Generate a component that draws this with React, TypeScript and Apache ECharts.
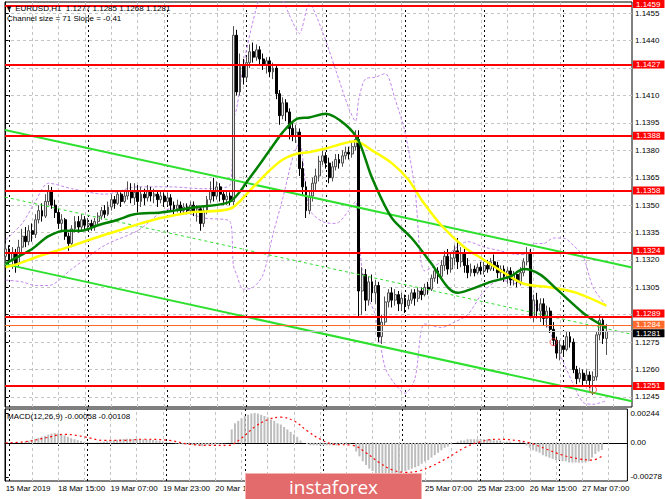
import React, { useEffect, useRef } from "react";
import * as echarts from "echarts";

const FONT = "'Liberation Sans', Arial, sans-serif";

// [open, close, low, high] per H1 bar, bar 0 = 15 Mar 23:00
const candles: number[][] = [
  [1.1322, 1.1326, 1.1317, 1.1329], [1.1326, 1.132, 1.1317, 1.1328], [1.132, 1.1324, 1.1315, 1.1327], [1.1324, 1.1318, 1.1313, 1.1326],
  [1.1318, 1.1327, 1.1316, 1.1331], [1.1327, 1.1333, 1.1324, 1.1337], [1.1333, 1.133, 1.1327, 1.1338], [1.133, 1.1336, 1.1328, 1.1339],
  [1.1336, 1.1334, 1.133, 1.134], [1.1334, 1.1342, 1.1332, 1.1345], [1.1342, 1.1347, 1.134, 1.135], [1.1347, 1.1344, 1.1341, 1.1351],
  [1.1344, 1.1352, 1.1343, 1.1356], [1.1352, 1.1358, 1.135, 1.1361], [1.1358, 1.135, 1.1348, 1.136], [1.135, 1.1346, 1.1343, 1.1353],
  [1.1346, 1.134, 1.1337, 1.1348], [1.134, 1.1342, 1.1336, 1.1345], [1.1342, 1.1333, 1.1331, 1.1343], [1.1333, 1.1329, 1.1325, 1.1335],
  [1.1329, 1.1337, 1.1327, 1.1339], [1.1337, 1.1341, 1.1335, 1.1344], [1.1341, 1.1338, 1.1335, 1.1344], [1.1338, 1.1342, 1.1336, 1.1345],
  [1.1342, 1.1339, 1.1336, 1.1344], [1.1339, 1.134, 1.1336, 1.1343], [1.134, 1.1338, 1.1336, 1.1342], [1.1338, 1.1341, 1.1336, 1.1343],
  [1.1341, 1.1344, 1.1339, 1.1346], [1.1344, 1.1347, 1.1342, 1.1349], [1.1347, 1.1345, 1.1343, 1.135], [1.1345, 1.1349, 1.1344, 1.1352],
  [1.1349, 1.1353, 1.1347, 1.1356], [1.1353, 1.1351, 1.1348, 1.1355], [1.1351, 1.1356, 1.135, 1.1358], [1.1356, 1.1352, 1.1349, 1.1357],
  [1.1352, 1.1355, 1.1351, 1.1358], [1.1355, 1.1358, 1.1353, 1.1363], [1.1358, 1.1354, 1.1351, 1.1362], [1.1354, 1.1357, 1.135, 1.1362],
  [1.1357, 1.1352, 1.1346, 1.1361], [1.1352, 1.1356, 1.1349, 1.136], [1.1356, 1.1354, 1.135, 1.1359], [1.1354, 1.1358, 1.1352, 1.1361],
  [1.1358, 1.1355, 1.1352, 1.136], [1.1355, 1.1356, 1.1351, 1.1359], [1.1356, 1.1353, 1.1349, 1.1358], [1.1353, 1.1355, 1.1351, 1.1358],
  [1.1355, 1.1352, 1.1349, 1.1357], [1.1352, 1.1354, 1.135, 1.1357], [1.1354, 1.135, 1.1347, 1.1356], [1.135, 1.1348, 1.1345, 1.1352],
  [1.1348, 1.135, 1.1346, 1.1353], [1.135, 1.1347, 1.1345, 1.1352], [1.1347, 1.1349, 1.1345, 1.1351], [1.1349, 1.1347, 1.1345, 1.1351],
  [1.1347, 1.135, 1.1345, 1.1352], [1.135, 1.1346, 1.1344, 1.1352], [1.1346, 1.1348, 1.1341, 1.135], [1.1348, 1.134, 1.1336, 1.1349],
  [1.134, 1.1347, 1.1338, 1.1349], [1.1347, 1.1353, 1.1345, 1.1355], [1.1353, 1.1358, 1.1351, 1.1363], [1.1358, 1.1355, 1.1352, 1.1365],
  [1.1355, 1.136, 1.1353, 1.1363], [1.136, 1.1356, 1.1352, 1.1362], [1.1356, 1.1353, 1.135, 1.1358], [1.1353, 1.1355, 1.135, 1.1358],
  [1.1355, 1.1352, 1.135, 1.1357], [1.1352, 1.1443, 1.135, 1.1448], [1.1443, 1.1412, 1.141, 1.1446], [1.1412, 1.1426, 1.141, 1.1433],
  [1.1426, 1.142, 1.1416, 1.143], [1.142, 1.1428, 1.1418, 1.1431], [1.1428, 1.1434, 1.1425, 1.1438], [1.1434, 1.1431, 1.1428, 1.1439],
  [1.1431, 1.1435, 1.1429, 1.1438], [1.1435, 1.143, 1.1427, 1.1437], [1.143, 1.1427, 1.1424, 1.1433], [1.1427, 1.1429, 1.1422, 1.1431],
  [1.1429, 1.1423, 1.142, 1.1431], [1.1423, 1.1425, 1.1419, 1.1428], [1.1425, 1.1411, 1.1408, 1.1427], [1.1411, 1.1399, 1.1394, 1.1413],
  [1.1399, 1.1406, 1.1397, 1.1409], [1.1406, 1.1401, 1.1396, 1.1408], [1.1401, 1.1392, 1.1386, 1.1403], [1.1392, 1.1388, 1.1385, 1.1395],
  [1.1388, 1.139, 1.1384, 1.1394], [1.139, 1.137, 1.1366, 1.1392], [1.137, 1.136, 1.1355, 1.1374], [1.136, 1.1347, 1.1343, 1.1363],
  [1.1347, 1.1355, 1.1345, 1.1358], [1.1355, 1.1362, 1.1352, 1.1365], [1.1362, 1.1366, 1.1358, 1.137], [1.1366, 1.1374, 1.1363, 1.1377],
  [1.1374, 1.1377, 1.1372, 1.138], [1.1377, 1.1373, 1.137, 1.1379], [1.1373, 1.1365, 1.1362, 1.1376], [1.1365, 1.1371, 1.1363, 1.1374],
  [1.1371, 1.1375, 1.1369, 1.1378], [1.1375, 1.1373, 1.137, 1.1378], [1.1373, 1.1377, 1.1371, 1.138], [1.1377, 1.1379, 1.1375, 1.1382],
  [1.1379, 1.1378, 1.1375, 1.1382], [1.1378, 1.1382, 1.1376, 1.1385], [1.1382, 1.1386, 1.138, 1.1391], [1.1386, 1.1303, 1.1289, 1.1391],
  [1.1303, 1.1312, 1.129, 1.1316], [1.1312, 1.1298, 1.1292, 1.1315], [1.1298, 1.1308, 1.1295, 1.1311], [1.1308, 1.1302, 1.1297, 1.1312],
  [1.1302, 1.1306, 1.1296, 1.1309], [1.1306, 1.1278, 1.1275, 1.1308], [1.1278, 1.1286, 1.1274, 1.129], [1.1286, 1.1297, 1.1284, 1.13],
  [1.1297, 1.1302, 1.1294, 1.1304], [1.1302, 1.1298, 1.1294, 1.1305], [1.1298, 1.1301, 1.1295, 1.1304], [1.1301, 1.1296, 1.1292, 1.1303],
  [1.1296, 1.1299, 1.1292, 1.1302], [1.1299, 1.1295, 1.1291, 1.1301], [1.1295, 1.1298, 1.1293, 1.1301], [1.1298, 1.1302, 1.1296, 1.1304],
  [1.1302, 1.1299, 1.1295, 1.1304], [1.1299, 1.1303, 1.1297, 1.1305], [1.1303, 1.1301, 1.1298, 1.1305], [1.1301, 1.1305, 1.13, 1.1307],
  [1.1305, 1.1304, 1.1301, 1.1308], [1.1304, 1.131, 1.1303, 1.1312], [1.131, 1.1314, 1.1308, 1.1316], [1.1314, 1.1311, 1.1307, 1.1316],
  [1.1311, 1.1317, 1.1309, 1.132], [1.1317, 1.1322, 1.1314, 1.1325], [1.1322, 1.1315, 1.1312, 1.1326], [1.1315, 1.1321, 1.1313, 1.1324],
  [1.1321, 1.1325, 1.1317, 1.1328], [1.1325, 1.1319, 1.1315, 1.1332], [1.1319, 1.1324, 1.1316, 1.1327], [1.1324, 1.1317, 1.1313, 1.1326],
  [1.1317, 1.1313, 1.131, 1.1321], [1.1313, 1.1315, 1.1311, 1.1318], [1.1315, 1.1313, 1.1311, 1.1317], [1.1313, 1.1316, 1.1312, 1.1318],
  [1.1316, 1.1314, 1.1312, 1.1319], [1.1314, 1.1317, 1.1312, 1.1319], [1.1317, 1.1315, 1.1313, 1.132], [1.1315, 1.1319, 1.1314, 1.1321],
  [1.1319, 1.1317, 1.1314, 1.1323], [1.1317, 1.1313, 1.131, 1.1319], [1.1313, 1.1315, 1.1309, 1.1317], [1.1315, 1.1311, 1.1308, 1.1317],
  [1.1311, 1.1314, 1.1307, 1.1316], [1.1314, 1.1309, 1.1306, 1.1316], [1.1309, 1.1312, 1.1306, 1.1314], [1.1312, 1.1308, 1.1305, 1.1314],
  [1.1308, 1.1313, 1.1306, 1.1316], [1.1313, 1.1319, 1.1311, 1.1321], [1.1319, 1.1324, 1.1317, 1.1327], [1.1324, 1.1289, 1.1288, 1.1326],
  [1.1289, 1.1298, 1.1286, 1.1301], [1.1298, 1.1292, 1.1288, 1.1302], [1.1292, 1.1296, 1.1286, 1.1299], [1.1296, 1.1288, 1.1284, 1.1299],
  [1.1288, 1.1292, 1.1283, 1.1295], [1.1292, 1.1282, 1.128, 1.1294], [1.1282, 1.1276, 1.1273, 1.1286], [1.1276, 1.1269, 1.1266, 1.1278],
  [1.1269, 1.1273, 1.1265, 1.1276], [1.1273, 1.1271, 1.1268, 1.1276], [1.1271, 1.1278, 1.127, 1.1281], [1.1278, 1.1275, 1.1272, 1.1281],
  [1.1275, 1.126, 1.1258, 1.1277], [1.126, 1.1255, 1.1252, 1.1262], [1.1255, 1.1258, 1.1253, 1.1261], [1.1258, 1.1254, 1.1251, 1.126],
  [1.1254, 1.1257, 1.1252, 1.126], [1.1257, 1.1254, 1.125, 1.1259], [1.1254, 1.1256, 1.1246, 1.1259], [1.1256, 1.1279, 1.1254, 1.1281],
  [1.1279, 1.1287, 1.1276, 1.129], [1.1287, 1.1277, 1.1274, 1.1288], [1.1277, 1.1281, 1.1268, 1.1285],
];

// moving averages, read at chosen bars: [bar, price]
const greenMA: number[][] = [
  [0, 1.1318], [4, 1.1322], [8, 1.1326], [13, 1.1333], [18, 1.1336], [23, 1.1336], [28, 1.1339], [34, 1.1342],
  [39, 1.1345], [47, 1.1346], [51, 1.1347], [58, 1.1349], [68, 1.1352], [74, 1.1365], [80, 1.138], [84, 1.139],
  [88, 1.1397], [92, 1.1398], [97, 1.14], [103, 1.1394], [107, 1.1385], [111, 1.1365], [117, 1.1343], [123, 1.1332],
  [129, 1.1318], [134, 1.1305], [137, 1.1302], [141, 1.1304], [147, 1.1308], [153, 1.1311], [157, 1.1315], [162, 1.1312],
  [167, 1.1304], [175, 1.1291], [179, 1.1286], [182, 1.1283],
];
const yellowMA: number[][] = [
  [0, 1.1316], [4, 1.1318], [10, 1.1322], [19, 1.1327], [27, 1.1332], [34, 1.1336], [41, 1.134], [47, 1.1343],
  [56, 1.1346], [68, 1.1348], [74, 1.1358], [80, 1.1369], [84, 1.1375], [88, 1.1378], [92, 1.1379], [97, 1.1381],
  [106, 1.1385], [111, 1.138], [117, 1.1373], [122, 1.1364], [126, 1.1353], [132, 1.1339], [139, 1.1327], [145, 1.132],
  [151, 1.1313], [157, 1.1307], [165, 1.1305], [173, 1.1302], [182, 1.1295],
];
const bandUpper: number[][] = [
  [0, 1.1331], [5, 1.134], [9, 1.1352], [13, 1.1362], [20, 1.1359], [30, 1.1356], [40, 1.136], [50, 1.136],
  [60, 1.1359], [68, 1.1361], [69, 1.1396], [70, 1.1403], [72, 1.1426], [75, 1.1451], [78, 1.1468], [81, 1.147],
  [84, 1.1462], [87, 1.145], [89, 1.1444], [92, 1.146], [96, 1.1445], [100, 1.1424], [104, 1.1403], [106, 1.1396],
  [107, 1.1408], [109, 1.1419], [112, 1.142], [115, 1.1422], [118, 1.1408], [121, 1.139], [124, 1.1359], [127, 1.1314],
  [132, 1.1319], [136, 1.1326], [140, 1.133], [145, 1.1327], [150, 1.1325], [155, 1.1323], [158, 1.1323], [160, 1.1329],
  [163, 1.1329], [166, 1.1332], [169, 1.1332], [172, 1.1328], [175, 1.1322], [178, 1.1305], [182, 1.1295],
];
const bandLower: number[][] = [
  [0, 1.1309], [5, 1.1308], [9, 1.1306], [13, 1.1306], [20, 1.1315], [30, 1.1328], [40, 1.1336], [50, 1.1348],
  [60, 1.1343], [68, 1.1341], [69, 1.1317], [70, 1.1312], [72, 1.1304], [75, 1.1305], [78, 1.1312], [81, 1.1334],
  [84, 1.1354], [87, 1.1376], [89, 1.1384], [92, 1.1348], [96, 1.1341], [100, 1.134], [104, 1.1347], [106, 1.1352],
  [107, 1.1332], [109, 1.1303], [112, 1.129], [115, 1.1261], [118, 1.1252], [121, 1.1247], [124, 1.1255], [127, 1.1285],
  [132, 1.1283], [136, 1.1286], [140, 1.129], [145, 1.1303], [150, 1.1309], [155, 1.1307], [158, 1.1307], [160, 1.1297],
  [163, 1.1289], [166, 1.1276], [169, 1.1264], [172, 1.1252], [175, 1.1242], [178, 1.1241], [182, 1.1243],
];

// regression channel: [bar, price] at both ends of the window
const channelUpper: number[][] = [[-0.2, 1.13911], [189.8, 1.13159]];
const channelMid: number[][] = [[-0.2, 1.13544], [189.8, 1.12793]];
const channelLower: number[][] = [[-0.2, 1.13177], [189.8, 1.12426]];

const levels = [1.1459, 1.1427, 1.1388, 1.1358, 1.1324, 1.1289, 1.1251];
const askLevel = 1.1284;
const lastPrice = 1.1281;
const markers: number[][] = [[166, 1.1275], [178, 1.1249]];

const priceTicks = [1.1245, 1.126, 1.1275, 1.129, 1.1305, 1.132, 1.1335, 1.135, 1.1365, 1.138, 1.1395, 1.141, 1.1425, 1.144, 1.1455];
// axis labels hidden behind the level boxes in the picture
const priceLabelsUnderBoxes = [1.1425, 1.129];
const timeTickBars = [0, 16, 32, 48, 64, 80, 96, 112, 128, 144, 160, 176];
const timeTickLabels = [
  "15 Mar 2019", "18 Mar 15:00", "19 Mar 07:00", "19 Mar 23:00", "20 Mar 15:00", "21 Mar 07:00",
  "21 Mar 23:00", "22 Mar 15:00", "25 Mar 07:00", "25 Mar 23:00", "26 Mar 15:00", "27 Mar 07:00",
];
// labels that sit under the broker logo in the picture
const labelsUnderLogo = ["21 Mar 07:00", "21 Mar 23:00", "22 Mar 15:00"];
const gridBars = [8, 16, 24, 32, 40, 48, 56, 64, 72, 80, 88, 96, 104, 112, 120, 128, 136, 144, 152, 160, 168, 176, 184];
const daySeparators = [1, 25, 49, 73, 97, 121, 145, 169];

const macdHist = [
  0.00002, 0.00001, 0.0, 0.00001, 0.00003, 0.00005,
  0.0001, 0.00018, 0.00026, 0.00034, 0.00042, 0.0005, 0.00058,
  0.00068, 0.00076, 0.0008, 0.00078, 0.00072,
  0.00062, 0.0005, 0.00038, 0.0003, 0.00022, 0.00016, 0.0001,
  0.00006, 0.00003, 0.00002, 0.00004, 0.00006, 0.0001, 0.00014, 0.00018,
  0.00022, 0.00026, 0.0003, 0.00032, 0.00034, 0.00034, 0.00033, 0.00032, 0.0003, 0.0003, 0.00028, 0.00026, 0.00024, 0.0002, 0.00016, 0.00012, 0.00008, 0.00004,
  0.0, -0.00004, -0.00008, -0.00012, -0.00014, -0.00016, -0.00018, -0.0002, -0.00024, -0.00026, -0.00022, -0.00018, -0.00014, -0.0001, -0.00006, -0.00004, -0.00002,
  0.00002,
  0.0011, 0.0016, 0.0018, 0.002, 0.0022, 0.0023, 0.0024, 0.00244, 0.0024, 0.0023, 0.0022, 0.0021, 0.0019, 0.0018, 0.0016, 0.0015, 0.0013, 0.0011, 0.0009, 0.0007, 0.0005, 0.0002, 0.0,
  -0.0001, -0.0002, -0.0002, -0.0002, -0.0002, -0.0002, -0.0002, -0.0002, -0.0002, -0.0002, -0.0001, -0.0001, -0.0001, -0.00005, 0.0,
  -0.0007, -0.0011, -0.0015, -0.0018, -0.0021, -0.0023, -0.0025, -0.0026, -0.00278, -0.0027, -0.0027, -0.0026, -0.0025, -0.0025, -0.0024,
  -0.0023, -0.0022, -0.0021, -0.002, -0.0019, -0.0017, -0.0015, -0.0014, -0.0012, -0.001, -0.0008, -0.0006, -0.0004, -0.0003, -0.0001,
  0.0, 0.0001, 0.0002, 0.0002, 0.0003, 0.0003, 0.0003, 0.0003, 0.0003, 0.0003, 0.0003, 0.0003, 0.0002, 0.0002, 0.0002, 0.0001, 0.0001, 0.0001, 0.0, 0.0, 0.0001, 0.0001,
  -0.0002, -0.0004, -0.0006, -0.0007, -0.0008, -0.001, -0.0011, -0.0012, -0.0013, -0.0014, -0.0014, -0.0015, -0.0015, -0.0016, -0.0016, -0.0016,
  -0.0016, -0.0016, -0.0016, -0.0015, -0.0012, -0.0009, -0.0007, -0.00058,
];
const macdSignal: number[][] = [
  [0, 0.0], [6, 0.0001], [12, 0.0004], [18, 0.0007], [24, 0.0005], [30, 0.0002], [36, 0.0002], [42, 0.0003],
  [50, 0.0002], [56, -0.0001], [62, -0.0002], [68, -0.0002], [72, 0.0004], [76, 0.0013], [80, 0.0019], [84, 0.0021],
  [88, 0.0018], [92, 0.001], [96, 0.0003], [100, -0.0001], [106, -0.0002], [110, -0.0008], [114, -0.0016], [118, -0.0022],
  [122, -0.0024], [126, -0.0023], [130, -0.0019], [135, -0.0012], [140, -0.0004], [145, 0.0001], [150, 0.0003], [156, 0.0002],
  [160, 0.0], [165, -0.0005], [170, -0.001], [175, -0.0013], [179, -0.0014], [182, -0.00108],
];
const macdTicks = [0.00244, 0, -0.00278];

export default function App() {
  const ref = useRef<HTMLDivElement>(null);
  useEffect(() => {
    document.body.style.margin = "0";
    const chart = echarts.init(ref.current as HTMLDivElement, null, { renderer: "svg" });

    const vLines = [
      ...gridBars.map((b) => ({ xAxis: b, lineStyle: { color: "#c4c4c4", type: [3, 3], width: 1 } })),
      ...daySeparators.map((b) => ({ xAxis: b, lineStyle: { color: "#000", type: [2, 3], width: 1 } })),
    ];
    const vMark = { z: 1, silent: true, precision: 3, symbol: ["none", "none"], label: { show: false }, data: vLines };

    // small vertical nudges so stacked price boxes do not cover each other
    const nudge: Record<string, number> = { "1.1459": -2, "1.1324": -2, "1.1289": -3, "1.1284": -1, "1.1281": 2 };
    const lvlLabel = (v: number, bg: string) => ({
      show: true,
      position: "end",
      distance: 1,
      offset: [0, nudge[v.toFixed(4)] || 0],
      formatter: (p: any) => Number(p.value).toFixed(4),
      color: "#fff",
      backgroundColor: bg,
      padding: [1, 4, 0, 3],
      fontSize: 8,
      lineHeight: 7,
      fontFamily: FONT,
    });
    const levelData: any[] = [
      ...levels.map((v) => ({ yAxis: v, lineStyle: { color: "#ff0000", width: 2, type: "solid" }, label: lvlLabel(v, "#ff0000") })),
      { yAxis: askLevel, lineStyle: { color: "#ff6a2a", width: 1, type: "solid" }, label: lvlLabel(askLevel, "#ff6a2a") },
      { yAxis: lastPrice, lineStyle: { color: "#c0c0c0", width: 1, type: "solid" }, label: lvlLabel(lastPrice, "#000000") },
    ];

    const axisText = { fontSize: 8, color: "#000", fontFamily: FONT };
    const priceLabelValues = priceTicks.filter((v) => priceLabelsUnderBoxes.indexOf(v) < 0);

    const option: any = {
      animation: false,
      backgroundColor: "#ffffff",
      grid: [
        { left: 5, right: 33, top: 2, height: 405, show: true, borderColor: "#000", borderWidth: 1 },
        { left: 5, right: 33, top: 409, height: 72, show: true, borderColor: "#000", borderWidth: 1 },
      ],
      xAxis: [
        { type: "value", gridIndex: 0, min: -0.2, max: 189.8, axisLine: { show: false }, axisTick: { show: false }, axisLabel: { show: false }, splitLine: { show: false } },
        {
          type: "value", gridIndex: 1, min: -0.2, max: 189.8,
          axisLine: { show: true, lineStyle: { color: "#000" } },
          axisTick: { show: true, customValues: timeTickBars, length: 3, lineStyle: { color: "#000" } },
          axisLabel: {
            ...axisText, customValues: timeTickBars, align: "left", margin: 3,
            formatter: (v: number) => {
              const k = timeTickBars.indexOf(Math.round(v));
              if (k < 0) return "";
              const s = timeTickLabels[k];
              return labelsUnderLogo.indexOf(s) >= 0 ? "" : s;
            },
          },
          splitLine: { show: false },
        },
      ],
      yAxis: [
        {
          type: "value", gridIndex: 0, position: "right", min: 1.12395, max: 1.14612,
          axisLine: { show: true, lineStyle: { color: "#000" } },
          axisTick: { show: true, customValues: priceTicks, length: 3, lineStyle: { color: "#000" } },
          axisLabel: { ...axisText, customValues: priceLabelValues, margin: 3, formatter: (v: number) => v.toFixed(4) },
          splitLine: { show: true, lineStyle: { color: "#c4c4c4", type: [3, 3], width: 1 } },
        },
        {
          type: "value", gridIndex: 1, position: "right", min: -0.00311, max: 0.00277,
          axisLine: { show: true, lineStyle: { color: "#000" } },
          axisTick: { show: true, customValues: macdTicks, length: 3, lineStyle: { color: "#000" } },
          axisLabel: { ...axisText, customValues: macdTicks, margin: 3, formatter: (v: number) => (Math.abs(v) < 1e-9 ? "0.00" : v.toFixed(5)) },
          splitLine: { show: false },
        },
      ],
      series: [
        {
          type: "candlestick", xAxisIndex: 0, yAxisIndex: 0,
          data: candles.map((c, i) => [i, c[0], c[1], c[2], c[3]]),
          encode: { x: 0, y: [1, 2, 3, 4] },
          barWidth: 2.4,
          itemStyle: { color: "#e4e4e4", color0: "#000000", borderColor: "#505050", borderColor0: "#000000", borderWidth: 1 },
          markLine: { silent: true, precision: 5, symbol: ["none", "none"], data: levelData },
          z: 3,
        },
        { type: "line", xAxisIndex: 0, yAxisIndex: 0, data: bandUpper, showSymbol: false, smooth: 0.3, lineStyle: { color: "#c387ee", width: 1, type: [3, 2] }, z: 2, markLine: vMark },
        { type: "line", xAxisIndex: 0, yAxisIndex: 0, data: bandLower, showSymbol: false, smooth: 0.3, lineStyle: { color: "#c387ee", width: 1, type: [3, 2] }, z: 2 },
        { type: "line", xAxisIndex: 0, yAxisIndex: 0, data: channelUpper, showSymbol: false, lineStyle: { color: "#2ee02e", width: 2 }, z: 4 },
        { type: "line", xAxisIndex: 0, yAxisIndex: 0, data: channelMid, showSymbol: false, lineStyle: { color: "#2ee02e", width: 1, type: [3, 3] }, z: 4 },
        { type: "line", xAxisIndex: 0, yAxisIndex: 0, data: channelLower, showSymbol: false, lineStyle: { color: "#2ee02e", width: 2 }, z: 4 },
        { type: "line", xAxisIndex: 0, yAxisIndex: 0, data: yellowMA, showSymbol: false, smooth: 0.3, lineStyle: { color: "#ffff00", width: 2.5 }, z: 4 },
        { type: "line", xAxisIndex: 0, yAxisIndex: 0, data: greenMA, showSymbol: false, smooth: 0.3, lineStyle: { color: "#008000", width: 2.5 }, z: 4 },
        { type: "scatter", xAxisIndex: 0, yAxisIndex: 0, data: markers, symbol: "circle", symbolSize: 7, itemStyle: { color: "rgba(0,0,0,0)", borderColor: "#ff3030", borderWidth: 1 }, z: 6 },
        {
          type: "bar", xAxisIndex: 1, yAxisIndex: 1,
          data: macdHist.map((v, i) => [i, v]),
          barWidth: 2, itemStyle: { color: "#bdbdbd" }, z: 2,
          markLine: vMark,
        },
        { type: "line", xAxisIndex: 1, yAxisIndex: 1, data: macdSignal, showSymbol: false, smooth: 0.4, lineStyle: { color: "#ff0000", width: 1.2, type: [2, 3] }, z: 3 },
      ],
      graphic: [
        { type: "text", left: 5, top: 4, z: 50, style: { text: "\u25BC EURUSD,H1  1.1277 1.1285 1.1268 1.1281", fontSize: 8, fontFamily: FONT, fill: "#000" } },
        { type: "text", left: 7, top: 14, z: 50, style: { text: "Channel size = 71 Slope = -0.41", fontSize: 8, fontFamily: FONT, fill: "#000" } },
        { type: "text", left: 7, top: 412, z: 50, style: { text: "MACD(12,26,9) -0.00058 -0.00108", fontSize: 8, fontFamily: FONT, fill: "#000" } },
        { type: "rect", left: 245, top: 473, z: 100, shape: { width: 176, height: 30 }, style: { fill: "#e36b6b", stroke: "#f2b3b3", lineWidth: 1 } },
        { type: "text", left: 289, top: 477, z: 101, style: { text: "instaforex", fill: "#ffffff", fontSize: 19, fontFamily: "'Open Sans', sans-serif" } },
      ],
    };
    chart.setOption(option);
    return () => chart.dispose();
  }, []);
  return <div ref={ref} style={{ width: 665, height: 499 }} />;
}
